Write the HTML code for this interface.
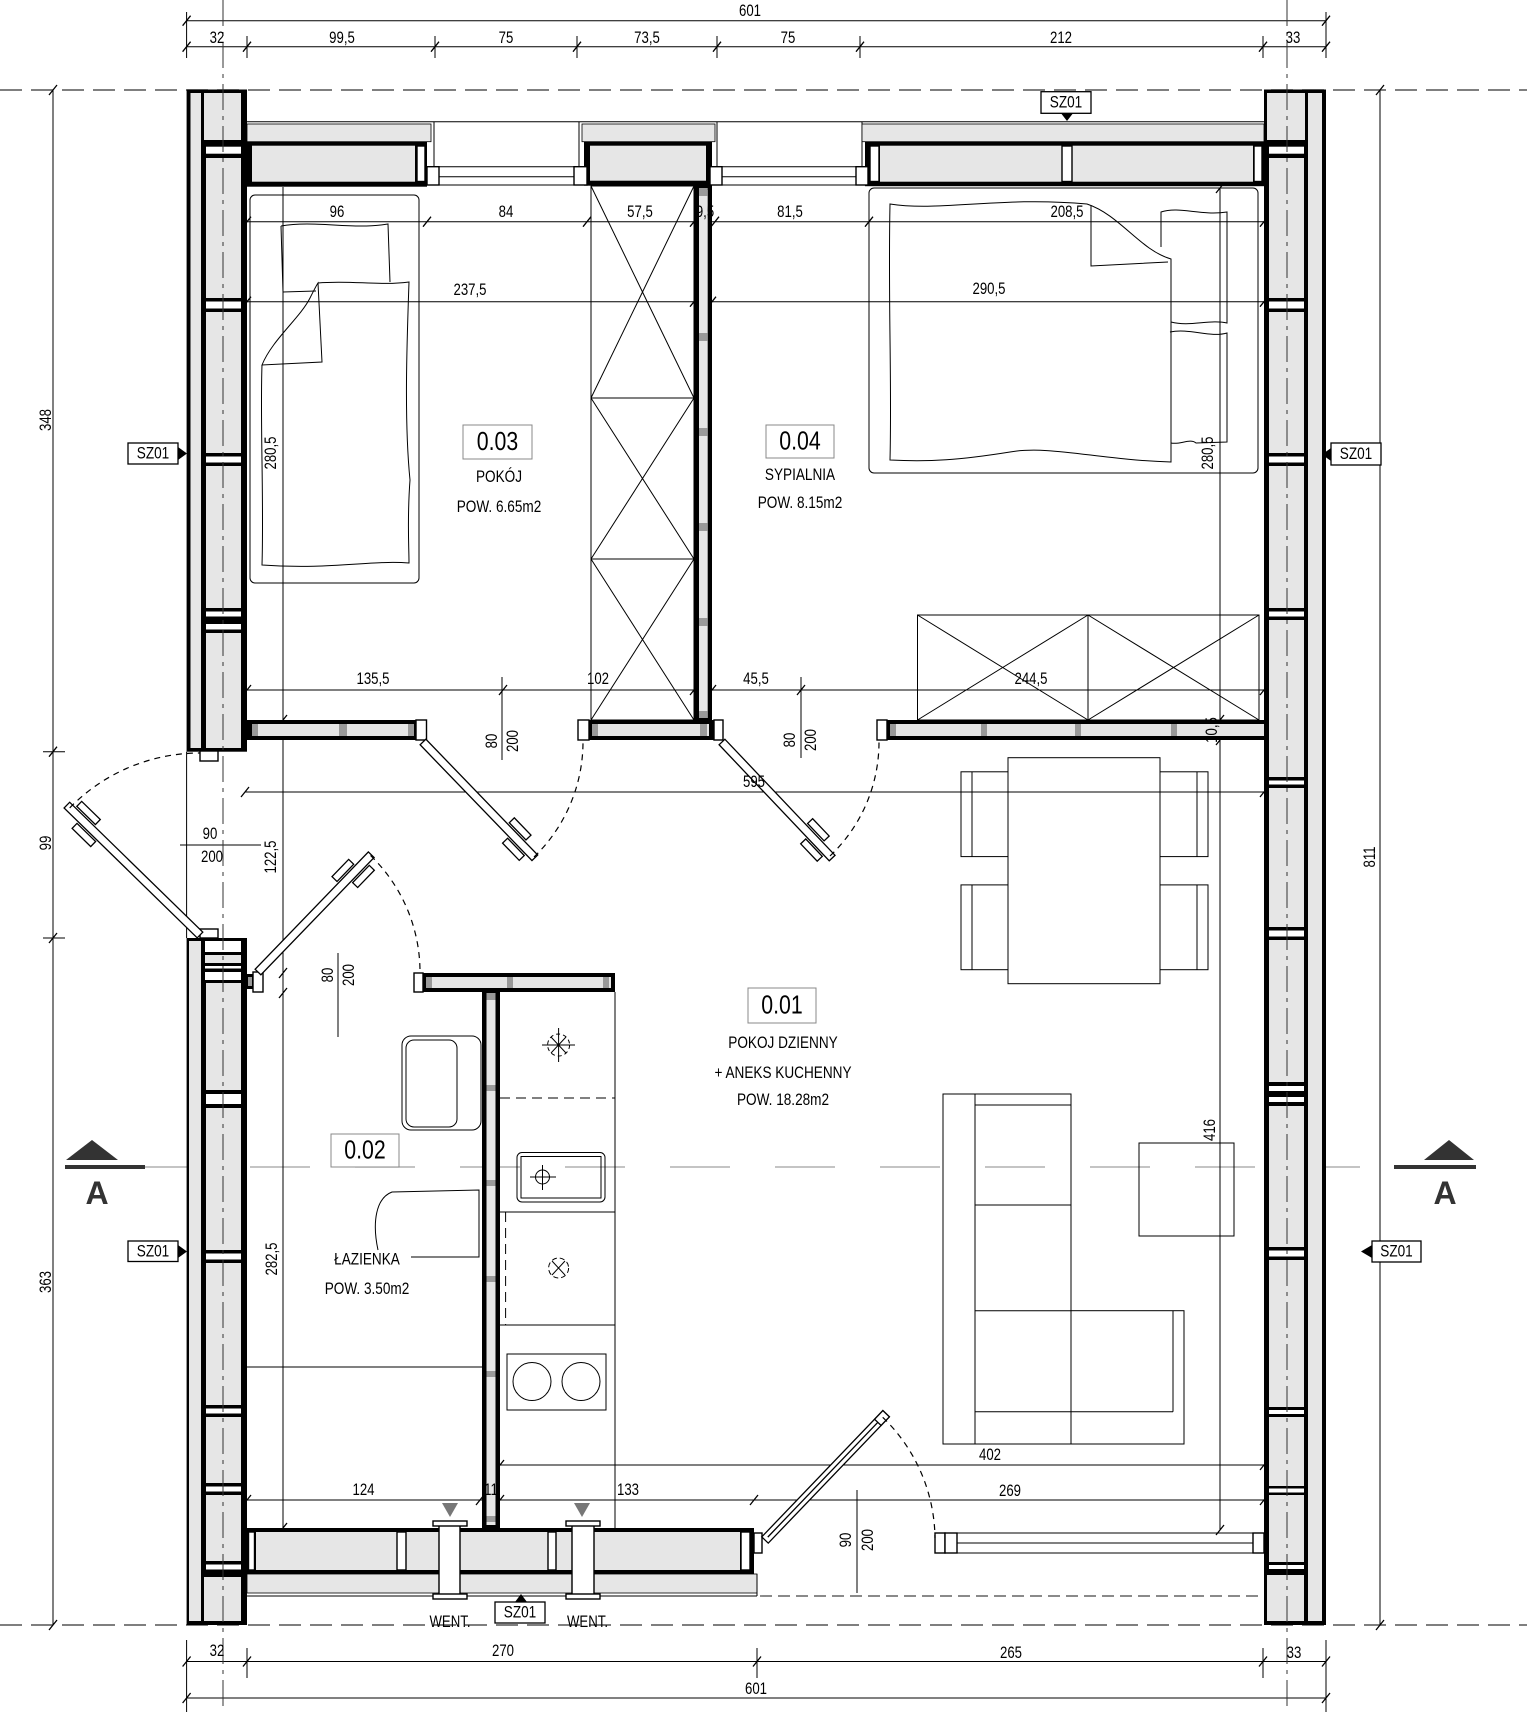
<!DOCTYPE html>
<html><head><meta charset="utf-8"><style>
html,body{margin:0;padding:0;background:#fff}
svg{display:block}
.l{stroke:#000;stroke-width:1;fill:none}
.h{fill:#e6e6e6}
.w{fill:#fff}
.k{fill:#000}
.q{fill:#9a9a9a}
.fr{fill:#fff;stroke:#000;stroke-width:1.4}
.d{font-family:"Liberation Sans Narrow","Liberation Sans",sans-serif;font-size:16.5px;fill:#000;text-anchor:middle;dominant-baseline:central}
.r{font-family:"Liberation Sans Narrow","Liberation Sans",sans-serif;font-size:17px;fill:#000;text-anchor:middle;dominant-baseline:central}
.n{font-family:"Liberation Sans Narrow","Liberation Sans",sans-serif;font-size:26px;fill:#000;text-anchor:middle;dominant-baseline:central}
.A{font-family:"Liberation Sans",sans-serif;font-weight:bold;font-size:32px;fill:#333;text-anchor:middle;dominant-baseline:central}
</style></head><body>
<svg width="1527" height="1712" viewBox="0 0 1527 1712" xmlns="http://www.w3.org/2000/svg">
<rect x="0" y="0" width="1527" height="1712" fill="#fff"/>

<line x1="0" y1="90" x2="1527" y2="90" stroke="#555" stroke-width="1.5" stroke-dasharray="22 9"/>
<line x1="0" y1="1625" x2="1527" y2="1625" stroke="#555" stroke-width="1.5" stroke-dasharray="22 9"/>
<line x1="145" y1="1167" x2="1394" y2="1167" stroke="#a0a0a0" stroke-width="1.3" stroke-dasharray="60 45"/>

<!-- FURNITURE -->
<g class="l">
<rect x="250" y="195" width="169" height="388" rx="5"/>
<path d="M281 226 C315 220 352 230 388 224 L390 282 M281 226 L283 292 L316 291"/>
<path d="M318 283 C350 280 380 286 409 282 C407 340 404 420 410 480 C407 520 409 545 409 563 C370 560 330 570 262 565 C264 500 260 420 262 365"/>
<path d="M262 365 C272 340 300 318 310 298 C314 290 316 286 318 283 L322 362 Z"/>
<rect x="591" y="186" width="103" height="534"/>
<path d="M591 398H694M591 559H694M591 186L694 398M694 186L591 398M591 398L694 559M694 398L591 559M591 559L694 720M694 559L591 720"/>
<rect x="869" y="188" width="389" height="285" rx="5"/>
<path d="M1161 247 L1161 212 C1180 206 1200 216 1227 212 L1227 323 C1210 319 1190 327 1171 322"/>
<path d="M1170 332 C1190 328 1210 338 1227 333 L1227 442 L1196 443 C1190 438 1180 445 1171 443"/>
<path d="M890 204 C940 212 1000 196 1087 204 C1120 215 1140 250 1171 259 L1171 462 C1100 460 1050 445 1010 452 C960 460 930 462 890 460 C892 380 888 300 890 204 Z"/>
<path d="M1091 205 L1091 266 L1168 262"/>
<rect x="917.5" y="615" width="341.5" height="105"/>
<path d="M1088 615V720M917.5 615L1088 720M1088 615L917.5 720M1088 615L1259 720M1259 615L1088 720"/>
<rect x="1008" y="757.7" width="152" height="226"/>
<rect x="961" y="771.8" width="47" height="84.8"/><line x1="972" y1="771.8" x2="972" y2="856.6"/>
<rect x="961" y="884.9" width="47" height="84.8"/><line x1="972" y1="884.9" x2="972" y2="969.7"/>
<rect x="1160" y="771.8" width="48" height="84.8"/><line x1="1197" y1="771.8" x2="1197" y2="856.6"/>
<rect x="1160" y="884.9" width="48" height="84.8"/><line x1="1197" y1="884.9" x2="1197" y2="969.7"/>
<rect x="943" y="1094" width="128" height="350"/>
<rect x="1071" y="1310.7" width="113" height="133.3"/>
<path d="M975 1094V1444M975 1105H1071M975 1205H1071M975 1310.7H1071M1173 1310.7V1411.7M975 1411.7H1173"/>
<rect x="1139" y="1143" width="95" height="93"/>
<rect x="402" y="1036" width="79" height="94" rx="9"/>
<rect x="406" y="1040" width="51" height="87" rx="8"/>
<path d="M378 1250 C372 1222 376 1198 392 1192 L479 1190 L479 1257 L411 1257"/>
<line x1="247" y1="1367" x2="482" y2="1367"/>
<line x1="615" y1="992" x2="615" y2="1528"/>
<line x1="500" y1="1098" x2="615" y2="1098" stroke-dasharray="10 6"/>
<line x1="500" y1="1212" x2="615" y2="1212"/>
<line x1="505.6" y1="1212" x2="505.6" y2="1325" stroke-dasharray="10 6"/>
<line x1="500" y1="1325" x2="615" y2="1325"/>
<circle cx="558.6" cy="1045" r="11" stroke-dasharray="4 3"/>
<path d="M542 1045H575M558.6 1028V1062M551 1037L566 1053M566 1037L551 1053"/>
<rect x="517" y="1152.5" width="88" height="49.5" rx="5"/>
<rect x="521" y="1156.5" width="80" height="41.5"/>
<circle cx="542.5" cy="1177" r="7"/>
<path d="M530 1177H556M542.5 1165V1190"/>
<circle cx="558.6" cy="1268" r="10" stroke-dasharray="5 3"/>
<path d="M552 1261L565 1275M565 1261L552 1275"/>
<rect x="507" y="1354" width="99" height="56"/>
<circle cx="532" cy="1381.5" r="19"/>
<circle cx="581" cy="1381.5" r="19"/>
</g>

<!-- DIMENSIONS -->
<g class="l">
<path d="M186.6 20.7H1326M186.6 46.7H1326M186.6 12V58M1326 12V58M247 36V58M435 36V58M577 36V58M717 36V58M860 36V58M1263 36V58"/>
<path d="M53 90V1625M43 751.7H65M43 938H65M1380 90V1625"/>
<path d="M247 221.7H1264M247 301.7H1264M283 187V1528M1220 188V1530M247 690H1264M245 792H1264M500 1465H1264M247 1500H1264"/>
<path d="M502 677V760M801 677V758M180 845H261M338 953V1037M857 1490V1593"/>
<path d="M186.6 1661.5H1326M186.6 1698H1326M186.6 1640V1712M1326 1640V1712M247 1648V1678M757 1648V1678M1263 1648V1678"/>
</g>
<path stroke="#000" stroke-width="1.3" fill="none" d="M182.6 25.7l8 -10M1322 25.7l8 -10M182.6 51.7l8 -10M243 51.7l8 -10M431 51.7l8 -10M573 51.7l8 -10M713 51.7l8 -10M856 51.7l8 -10M1259 51.7l8 -10M1322 51.7l8 -10M49 95l8 -10M49 756.7l8 -10M49 943l8 -10M49 1630l8 -10M1376 95l8 -10M1376 1630l8 -10M243 226.7l8 -10M423 226.7l8 -10M583 226.7l8 -10M690 226.7l8 -10M711 226.7l8 -10M865 226.7l8 -10M1260 226.7l8 -10M243 306.7l8 -10M690 306.7l8 -10M708 306.7l8 -10M1260 306.7l8 -10M279 725l8 -10M279 978l8 -10M279 998l8 -10M279 1533l8 -10M1216 193l8 -10M1216 725l8 -10M1216 745l8 -10M1216 1535l8 -10M243 695l8 -10M499 695l8 -10M690 695l8 -10M708 695l8 -10M797 695l8 -10M1260 695l8 -10M241 797l8 -10M1260 797l8 -10M496 1470l8 -10M1260 1470l8 -10M243 1505l8 -10M476 1505l8 -10M496 1505l8 -10M750 1505l8 -10M1260 1505l8 -10M182.6 1666.5l8 -10M243 1666.5l8 -10M753 1666.5l8 -10M1259 1666.5l8 -10M1322 1666.5l8 -10M182.6 1703l8 -10M1322 1703l8 -10"/>

<!-- WALLS -->
<rect class="k" x="186.6" y="89.5" width="60.4" height="662.2"/>
<rect class="h" x="190.5" y="93" width="10.5" height="655"/>
<rect class="h" x="204" y="93" width="37" height="47"/>
<rect class="w" x="206" y="146.7" width="35" height="7"/>
<rect class="h" x="206" y="158" width="35" height="140"/>
<rect class="w" x="206" y="301.5" width="35" height="7"/>
<rect class="h" x="206" y="312" width="35" height="141"/>
<rect class="w" x="206" y="456.5" width="35" height="6"/>
<rect class="h" x="206" y="466" width="35" height="142"/>
<rect class="w" x="206" y="611.5" width="35" height="5"/>
<rect class="w" x="206" y="624" width="35" height="5.5"/>
<rect class="h" x="206" y="633" width="35" height="115"/>

<rect class="k" x="186.6" y="938" width="60.4" height="687"/>
<rect class="h" x="189" y="941" width="12" height="680"/>
<rect class="w" x="205" y="941" width="36" height="11"/>
<rect class="h" x="205" y="955" width="36" height="8"/>
<rect class="w" x="205" y="966" width="36" height="2.5"/>
<rect class="w" x="205" y="972" width="36" height="8"/>
<rect class="h" x="206" y="983" width="35" height="107"/>
<rect class="w" x="206" y="1094" width="35" height="10"/>
<rect class="h" x="206" y="1108" width="35" height="142"/>
<rect class="w" x="206" y="1253.5" width="35" height="6"/>
<rect class="h" x="206" y="1263" width="35" height="142"/>
<rect class="w" x="206" y="1408.5" width="35" height="5"/>
<rect class="h" x="206" y="1417" width="35" height="66"/>
<rect class="w" x="206" y="1486.5" width="35" height="5"/>
<rect class="h" x="206" y="1495" width="35" height="66"/>
<rect class="w" x="206" y="1564.5" width="35" height="5"/>
<rect class="h" x="204" y="1577" width="37" height="44"/>

<rect class="k" x="1264" y="89.5" width="62" height="1535.5"/>
<rect class="h" x="1308" y="93" width="14" height="1528"/>
<rect class="h" x="1267" y="93" width="38" height="47"/>
<rect class="w" x="1269" y="146.7" width="35" height="7"/>
<rect class="h" x="1269" y="158" width="35" height="140"/>
<rect class="w" x="1269" y="301.5" width="35" height="7"/>
<rect class="h" x="1269" y="312" width="35" height="141"/>
<rect class="w" x="1269" y="456.5" width="35" height="6"/>
<rect class="h" x="1269" y="466" width="35" height="142"/>
<rect class="w" x="1269" y="611.5" width="35" height="5"/>
<rect class="h" x="1269" y="620" width="35" height="157"/>
<rect class="w" x="1269" y="780.5" width="35" height="4"/>
<rect class="h" x="1269" y="788" width="35" height="139"/>
<rect class="w" x="1269" y="930.5" width="35" height="6"/>
<rect class="h" x="1269" y="940" width="35" height="142"/>
<rect class="w" x="1269" y="1086" width="35" height="5"/>
<rect class="w" x="1269" y="1097" width="35" height="5"/>
<rect class="h" x="1269" y="1106" width="35" height="141"/>
<rect class="w" x="1269" y="1250.5" width="35" height="6"/>
<rect class="h" x="1269" y="1260" width="35" height="147"/>
<rect class="w" x="1269" y="1410" width="35" height="4"/>
<rect class="h" x="1269" y="1417" width="35" height="69"/>
<rect class="w" x="1269" y="1488.5" width="35" height="4"/>
<rect class="h" x="1269" y="1495" width="35" height="67"/>
<rect class="w" x="1269" y="1565" width="35" height="4"/>
<rect class="h" x="1267" y="1575" width="37" height="46"/>

<line class="l" x1="247" y1="121.7" x2="1264" y2="121.7"/>
<rect class="h" x="247" y="124" width="184" height="17.7" stroke="#000" stroke-width="0.8"/>
<rect class="k" x="247" y="141.7" width="180" height="45"/>
<rect class="h" x="252" y="145.7" width="163" height="36"/>
<rect class="fr" x="417" y="146" width="8" height="35.5"/>
<line class="l" x1="434" y1="121.7" x2="434" y2="166.7"/>
<rect class="fr" x="427" y="166.7" width="12" height="18.3"/>
<path class="l" d="M439 166.7H574M439 176.7H574M439 185H574M722 166.7H856M722 176.7H856M722 185H856"/>
<path class="l" d="M579 121.7V166.7M717 121.7V166.7M862 121.7V166.7"/>
<rect class="h" x="582" y="124" width="133" height="17.7" stroke="#000" stroke-width="0.8"/>
<rect class="k" x="584" y="141.7" width="128" height="44"/>
<rect class="h" x="590" y="145.7" width="116" height="35"/>
<rect class="fr" x="574" y="166.7" width="13" height="18.3"/>
<rect class="fr" x="710" y="166.7" width="12" height="18.3"/>
<rect class="h" x="862" y="124" width="402" height="17.7" stroke="#000" stroke-width="0.8"/>
<rect class="k" x="865" y="141.7" width="399" height="44.5"/>
<rect class="h" x="880" y="145.7" width="373" height="36"/>
<rect class="fr" x="870" y="146" width="9" height="35.5"/>
<rect class="fr" x="1062" y="146" width="10" height="35.5"/>
<rect class="fr" x="1254" y="146" width="8" height="35.5"/>
<rect class="fr" x="856" y="166.7" width="12" height="18.3"/>

<rect class="k" x="694" y="185" width="18" height="537"/>
<rect class="h" x="699" y="190" width="8.7" height="528"/>
<rect class="q" x="699" y="188" width="8.7" height="8"/>
<rect class="q" x="699" y="333" width="8.7" height="8"/>
<rect class="q" x="699" y="428" width="8.7" height="8"/>
<rect class="q" x="699" y="523" width="8.7" height="8"/>
<rect class="q" x="699" y="618" width="8.7" height="8"/>
<rect class="q" x="699" y="711" width="8.7" height="7"/>

<rect class="k" x="247" y="720" width="170" height="20"/>
<rect class="h" x="252" y="724" width="160" height="12"/>
<rect class="q" x="252" y="724" width="6" height="12"/>
<rect class="q" x="339" y="724" width="8" height="12"/>
<rect class="q" x="408" y="724" width="6" height="12"/>
<rect class="fr" x="416" y="720" width="10.5" height="20"/>
<rect class="k" x="589" y="720" width="125" height="20"/>
<rect class="h" x="592" y="724" width="117" height="12"/>
<rect class="q" x="592" y="724" width="6" height="12"/>
<rect class="q" x="700" y="724" width="7" height="12"/>
<rect class="fr" x="578" y="720" width="11" height="20"/>
<rect class="fr" x="714" y="720" width="9" height="20"/>
<rect class="k" x="887" y="720" width="377" height="20"/>
<rect class="h" x="890" y="724" width="374" height="12"/>
<rect class="q" x="890" y="724" width="6" height="12"/>
<rect class="q" x="981" y="724" width="6" height="12"/>
<rect class="q" x="1075" y="724" width="6" height="12"/>
<rect class="q" x="1171" y="724" width="6" height="12"/>
<rect class="fr" x="877" y="720" width="10" height="20"/>
<rect class="k" x="423" y="973" width="192" height="19"/>
<rect class="h" x="426" y="977" width="185" height="11"/>
<rect class="q" x="426" y="977" width="6" height="11"/>
<rect class="q" x="507" y="977" width="6" height="11"/>
<rect class="q" x="603" y="977" width="6" height="11"/>
<rect class="fr" x="414" y="973" width="9" height="19"/>
<rect class="k" x="482" y="992" width="18" height="536"/>
<rect class="h" x="486.5" y="995" width="9" height="530"/>
<rect class="q" x="486.5" y="993" width="9" height="7"/>
<rect class="q" x="486.5" y="1085" width="9" height="6"/>
<rect class="q" x="486.5" y="1180" width="9" height="6"/>
<rect class="q" x="486.5" y="1276" width="9" height="6"/>
<rect class="q" x="486.5" y="1371" width="9" height="6"/>
<rect class="q" x="486.5" y="1516" width="9" height="6"/>
<rect class="k" x="246" y="974" width="7" height="15"/>
<rect class="q" x="248" y="977" width="4" height="9"/>
<rect class="fr" x="253" y="972" width="10" height="20"/>
<rect class="fr" x="200" y="751" width="18" height="10"/>
<rect class="fr" x="200" y="929" width="18" height="9"/>
<line class="l" x1="186.6" y1="751.7" x2="186.6" y2="938"/>

<rect class="k" x="247" y="1528" width="507" height="46"/>
<rect class="h" x="256" y="1532" width="484" height="38"/>
<rect class="fr" x="248.5" y="1532" width="6" height="38"/>
<rect class="fr" x="397" y="1532" width="9" height="38"/>
<rect class="fr" x="548" y="1532" width="8" height="38"/>
<rect class="fr" x="741" y="1532" width="9" height="38"/>
<rect class="h" x="247" y="1574" width="510" height="19" stroke="#000" stroke-width="0.8"/>
<line class="l" x1="247" y1="1596" x2="757" y2="1596"/>
<line class="l" x1="757" y1="1574" x2="757" y2="1596"/>
<line x1="760" y1="1596" x2="1264" y2="1596" stroke="#444" stroke-width="1.2" stroke-dasharray="12 6"/>
<rect class="fr" x="754" y="1533" width="8" height="20"/>
<rect class="fr" x="439" y="1524" width="21" height="72"/>
<rect class="fr" x="433" y="1521" width="34" height="5"/>
<rect class="fr" x="433" y="1594" width="34" height="5"/>
<rect class="fr" x="572" y="1524" width="22" height="72"/>
<rect class="fr" x="566" y="1521" width="34" height="5"/>
<rect class="fr" x="566" y="1594" width="34" height="5"/>
<polygon points="442,1503 458,1503 450,1517" fill="#777"/>
<polygon points="574,1503 590,1503 582,1517" fill="#777"/>
<rect class="fr" x="935" y="1533" width="10" height="20"/>
<rect class="fr" x="945" y="1533" width="12" height="20"/>
<path class="l" d="M957 1533H1253M957 1543H1253M957 1553H1253"/>
<rect class="fr" x="1253" y="1533" width="11" height="20"/>

<!-- DOORS -->
<g fill="#fff" stroke="#000" stroke-width="1.3">
<g transform="translate(200,935) rotate(224.3)"><rect x="0" y="-4" width="186" height="8"/><rect x="140" y="-13" width="26" height="7"/><rect x="152" y="6" width="26" height="7"/></g>
<g transform="translate(423,742) rotate(46)"><rect x="0" y="-4" width="161" height="8"/><rect x="118" y="-13" width="24" height="7"/><rect x="128" y="6" width="24" height="7"/></g>
<g transform="translate(722,742) rotate(46.5)"><rect x="0" y="-4" width="160" height="8"/><rect x="118" y="-13" width="24" height="7"/><rect x="128" y="6" width="24" height="7"/></g>
<g transform="translate(258,972) rotate(-46)"><rect x="0" y="-4" width="163" height="8"/><rect x="120" y="-13" width="24" height="7"/><rect x="130" y="6" width="24" height="7"/></g>
<g transform="translate(765,1540) rotate(-46.2)"><rect x="0" y="-4.5" width="175" height="9"/><line x1="4" y1="0" x2="171" y2="0"/><rect x="163" y="-4.5" width="12" height="9"/></g>
</g>
<g fill="none" stroke="#000" stroke-width="1.2" stroke-dasharray="6 5">
<path d="M69.7 807.9 A182 182 0 0 1 200 753"/>
<path d="M534 857 A160 160 0 0 0 583 742"/>
<path d="M830 856 A157 157 0 0 0 879 742"/>
<path d="M370.5 855.5 A162 162 0 0 1 420 972"/>
<path d="M882.7 1417.3 A170 170 0 0 1 935 1538"/>
</g>

<line x1="223" y1="0" x2="223" y2="1712" stroke="#333" stroke-width="1" stroke-dasharray="26 6 4 6"/>
<line x1="1287" y1="0" x2="1287" y2="1712" stroke="#333" stroke-width="1" stroke-dasharray="26 6 4 6"/>

<!-- SECTION MARKERS -->
<polygon points="92,1140 66,1160 118,1160" fill="#333"/>
<rect x="65" y="1165" width="80" height="4" fill="#333"/>
<text class="A" x="97" y="1193">A</text>
<polygon points="1449,1140 1424,1160 1474,1160" fill="#333"/>
<rect x="1394" y="1165" width="82" height="4" fill="#333"/>
<text class="A" x="1445" y="1193">A</text>

<!-- TAGS -->
<g fill="#fff" stroke="#000" stroke-width="1.3">
<rect x="1041" y="91.7" width="50" height="21.6"/>
<rect x="128" y="443" width="50" height="21"/>
<rect x="1331" y="443" width="50" height="22"/>
<rect x="128" y="1241" width="50" height="20.5"/>
<rect x="1372" y="1241" width="49" height="21"/>
<rect x="495" y="1602" width="50" height="21"/>
</g>
<g fill="#000">
<polygon points="1061,113.3 1073,113.3 1067,121"/>
<polygon points="178,447 178,460 187,453.5"/>
<polygon points="1331,448 1331,461 1322,454.5"/>
<polygon points="178,1245 178,1258 187,1251.5"/>
<polygon points="1372,1245 1372,1258 1361,1251.5"/>
<polygon points="515,1602 527,1602 521,1594"/>
</g>
<g class="d" style="font-size:17px">
<text transform="translate(1066 102.5) scale(.8 1)">SZ01</text>
<text transform="translate(153 453.5) scale(.8 1)">SZ01</text>
<text transform="translate(1356 454) scale(.8 1)">SZ01</text>
<text transform="translate(153 1251.5) scale(.8 1)">SZ01</text>
<text transform="translate(1396.5 1251.5) scale(.8 1)">SZ01</text>
<text transform="translate(520 1612.5) scale(.8 1)">SZ01</text>
</g>

<!-- DIM TEXT -->
<g class="d">
<text transform="translate(750 11) scale(.8 1)">601</text>
<text transform="translate(217 38) scale(.8 1)">32</text>
<text transform="translate(342 38) scale(.8 1)">99,5</text>
<text transform="translate(506 38) scale(.8 1)">75</text>
<text transform="translate(647 38) scale(.8 1)">73,5</text>
<text transform="translate(788 38) scale(.8 1)">75</text>
<text transform="translate(1061 38) scale(.8 1)">212</text>
<text transform="translate(1293 38) scale(.8 1)">33</text>
<text transform="translate(337 212) scale(.8 1)">96</text>
<text transform="translate(506 212) scale(.8 1)">84</text>
<text transform="translate(640 212) scale(.8 1)">57,5</text>
<text transform="translate(705 212) scale(.8 1)">9,5</text>
<text transform="translate(790 212) scale(.8 1)">81,5</text>
<text transform="translate(1067 212) scale(.8 1)">208,5</text>
<text transform="translate(470 290) scale(.8 1)">237,5</text>
<text transform="translate(989 289) scale(.8 1)">290,5</text>
<text transform="translate(373 679) scale(.8 1)">135,5</text>
<text transform="translate(598 679) scale(.8 1)">102</text>
<text transform="translate(756 679) scale(.8 1)">45,5</text>
<text transform="translate(1031 679) scale(.8 1)">244,5</text>
<text transform="translate(754 782) scale(.8 1)">595</text>
<text transform="translate(210 834) scale(.8 1)">90</text>
<text transform="translate(212 857) scale(.8 1)">200</text>
<text transform="translate(990 1455) scale(.8 1)">402</text>
<text transform="translate(363.5 1490) scale(.8 1)">124</text>
<text transform="translate(491 1490) scale(.8 1)">11</text>
<text transform="translate(628 1490) scale(.8 1)">133</text>
<text transform="translate(1010 1491) scale(.8 1)">269</text>
<text transform="translate(217 1651) scale(.8 1)">32</text>
<text transform="translate(503 1651) scale(.8 1)">270</text>
<text transform="translate(1011 1653) scale(.8 1)">265</text>
<text transform="translate(1294 1653) scale(.8 1)">33</text>
<text transform="translate(756 1689) scale(.8 1)">601</text>
<text transform="translate(450 1622) scale(.8 1)">WENT.</text>
<text transform="translate(587.5 1622) scale(.8 1)">WENT.</text>
<text transform="translate(46 420) rotate(-90) scale(.8 1)">348</text>
<text transform="translate(46 843) rotate(-90) scale(.8 1)">99</text>
<text transform="translate(46 1282) rotate(-90) scale(.8 1)">363</text>
<text transform="translate(1370 857) rotate(-90) scale(.8 1)">811</text>
<text transform="translate(271 453) rotate(-90) scale(.8 1)">280,5</text>
<text transform="translate(271 857) rotate(-90) scale(.8 1)">122,5</text>
<text transform="translate(272 1259) rotate(-90) scale(.8 1)">282,5</text>
<text transform="translate(1208 453) rotate(-90) scale(.8 1)">280,5</text>
<text transform="translate(1212 730) rotate(-90) scale(.8 1)">10,5</text>
<text transform="translate(1210 1130) rotate(-90) scale(.8 1)">416</text>
<text transform="translate(492 741) rotate(-90) scale(.8 1)">80</text>
<text transform="translate(513 741) rotate(-90) scale(.8 1)">200</text>
<text transform="translate(790 740) rotate(-90) scale(.8 1)">80</text>
<text transform="translate(811 740) rotate(-90) scale(.8 1)">200</text>
<text transform="translate(328 975) rotate(-90) scale(.8 1)">80</text>
<text transform="translate(349 975) rotate(-90) scale(.8 1)">200</text>
<text transform="translate(846 1540) rotate(-90) scale(.8 1)">90</text>
<text transform="translate(868 1540) rotate(-90) scale(.8 1)">200</text>
</g>

<!-- ROOM LABELS -->
<g fill="#fff" stroke="#888" stroke-width="1">
<rect x="463" y="425" width="69" height="34"/>
<rect x="766" y="425" width="68" height="33"/>
<rect x="748" y="988" width="68" height="35"/>
<rect x="331" y="1134" width="68" height="33"/>
</g>
<g class="n">
<text transform="translate(497.5 442) scale(.82 1)">0.03</text>
<text transform="translate(800 441.5) scale(.82 1)">0.04</text>
<text transform="translate(782 1005.5) scale(.82 1)">0.01</text>
<text transform="translate(365 1150.5) scale(.82 1)">0.02</text>
</g>
<g class="r">
<text transform="translate(499 477) scale(.8 1)">POKÓJ</text>
<text transform="translate(499 507) scale(.8 1)">POW. 6.65m2</text>
<text transform="translate(800 475) scale(.8 1)">SYPIALNIA</text>
<text transform="translate(800 503) scale(.8 1)">POW. 8.15m2</text>
<text transform="translate(783 1043) scale(.8 1)">POKOJ DZIENNY</text>
<text transform="translate(783 1073) scale(.8 1)">+ ANEKS KUCHENNY</text>
<text transform="translate(783 1100) scale(.8 1)">POW. 18.28m2</text>
<text transform="translate(367 1259.5) scale(.8 1)">ŁAZIENKA</text>
<text transform="translate(367 1289) scale(.8 1)">POW. 3.50m2</text>
</g>
</svg>
</body></html>
